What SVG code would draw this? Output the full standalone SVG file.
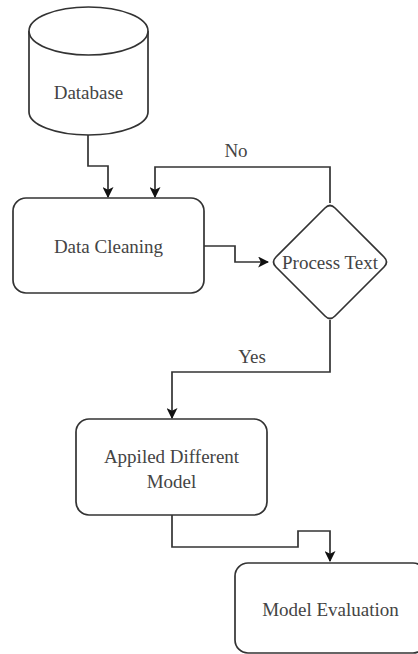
<svg xmlns="http://www.w3.org/2000/svg" width="418" height="654" viewBox="0 0 418 654" font-family="Liberation Serif, DejaVu Serif, serif">
  <style>
    .shape { fill: #ffffff; stroke: #333333; stroke-width: 1.7; }
    .edge { fill: none; stroke: #333333; stroke-width: 1.7; }
    .label { font-size: 19px; fill: #444444; text-anchor: middle; dominant-baseline: central; }
  </style>
  <defs>
    <marker id="arrow" viewBox="0 0 10 10" refX="9" refY="5" markerWidth="11" markerHeight="11" markerUnits="userSpaceOnUse" orient="auto">
      <path d="M0,0 L10,5 L0,10 L2.5,5 Z" fill="#111111"/>
    </marker>
  </defs>
  <rect width="418" height="654" fill="#ffffff"/>

  <!-- connectors -->
  <g id="connectors">
    <path class="edge" d="M88,135 V166 H108 V197" marker-end="url(#arrow)"/>
    <path class="edge" d="M330,203 V167 H155 V197" marker-end="url(#arrow)"/>
    <path class="edge" d="M204,246 H235 V262 H268" marker-end="url(#arrow)"/>
    <path class="edge" d="M330,320 V372 H172 V418" marker-end="url(#arrow)"/>
    <path class="edge" d="M172,515 V547 H298 V531 H330 V561" marker-end="url(#arrow)"/>
    <text class="label" x="236" y="150">No</text>
    <text class="label" x="252" y="356">Yes</text>
  </g>

  <!-- database cylinder -->
  <g id="database">
    <path class="shape" d="M29,31 A59.5,24 0 0 1 148,31 V112 A59.5,23 0 0 1 29,112 Z"/>
    <path class="shape" fill="none" d="M29,31 A59.5,24 0 0 0 148,31"/>
    <text class="label" x="88.5" y="92">Database</text>
  </g>

  <g id="data-cleaning">
    <rect class="shape" x="13" y="198" width="191" height="95" rx="13"/>
    <text class="label" x="108.5" y="246">Data Cleaning</text>
  </g>

  <g id="process-text">
    <path class="shape" d="M325,208 Q330,203 335,208 L384,257 Q389,262 384,267 L335,316 Q330,321 325,316 L276,267 Q271,262 276,257 Z"/>
    <text class="label" x="330" y="262">Process Text</text>
  </g>

  <g id="applied-model">
    <rect class="shape" x="76" y="419" width="191" height="96" rx="13"/>
    <text class="label" x="171.5" y="456">Appiled Different</text>
    <text class="label" x="171.5" y="481">Model</text>
  </g>

  <g id="model-evaluation">
    <rect class="shape" x="235" y="563" width="191" height="90" rx="13"/>
    <text class="label" x="330.5" y="609">Model Evaluation</text>
  </g>
</svg>
